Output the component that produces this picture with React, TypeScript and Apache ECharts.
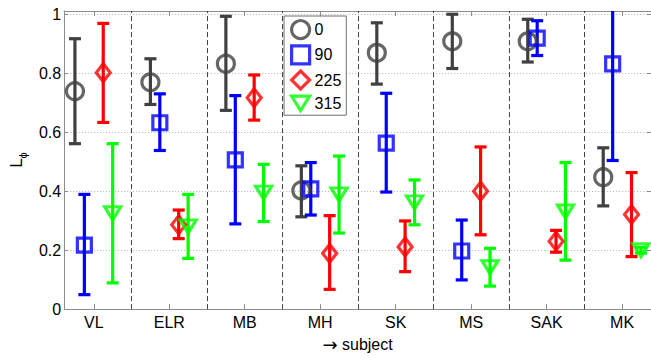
import React, { useEffect, useRef } from "react";
import * as echarts from "echarts";

const subjects = ["VL", "ELR", "MB", "MH", "SK", "MS", "SAK", "MK"];
const angleNames = ["0", "90", "225", "315"];
const angleColors = ["#404040", "#0000ff", "#ff0000", "#00ff00"];
const angleOffsets = [-0.25, -0.125, 0.125, 0.25];

const mean0 = [0.739, 0.769, 0.832, 0.402, 0.869, 0.908, 0.908, 0.447];
const lo0 = [0.561, 0.694, 0.674, 0.313, 0.763, 0.816, 0.838, 0.35];
const hi0 = [0.917, 0.849, 0.993, 0.486, 0.971, 1.0, 0.983, 0.547];

const mean90 = [0.217, 0.632, 0.506, 0.408, 0.563, 0.197, 0.919, 0.832];
const lo90 = [0.049, 0.538, 0.289, 0.319, 0.397, 0.099, 0.86, 0.504];
const hi90 = [0.389, 0.73, 0.724, 0.497, 0.732, 0.302, 0.978, 1.16];

const mean225 = [0.802, 0.286, 0.717, 0.189, 0.211, 0.4, 0.23, 0.321];
const lo225 = [0.633, 0.239, 0.641, 0.067, 0.127, 0.252, 0.193, 0.178];
const hi225 = [0.969, 0.336, 0.794, 0.317, 0.299, 0.55, 0.267, 0.463];

const mean315 = [0.325, 0.28, 0.395, 0.389, 0.362, 0.142, 0.331, 0.2];
const lo315 = [0.089, 0.172, 0.297, 0.258, 0.286, 0.078, 0.166, 0.19];
const hi315 = [0.561, 0.389, 0.491, 0.519, 0.438, 0.206, 0.497, 0.21];

const yTicks = [0, 0.2, 0.4, 0.6, 0.8, 1];
const separators = [1.5, 2.5, 3.5, 4.5, 5.5, 6.5, 7.5];

const X_MIN = 0.607;
const X_MAX = 8.383;
const Y_MIN = 0;
const Y_MAX = 1.011;

const FONT = "Liberation Sans, Arial, sans-serif";
const AXIS_COLOR = "#8c8c8c";

const means = [mean0, mean90, mean225, mean315];
const los = [lo0, lo90, lo225, lo315];
const his = [hi0, hi90, hi225, hi315];
const symbols = ["circle", "rect", "diamond", "path://M0,0L20,0L10,16Z"];
const symbolSizes: any[] = [17, 14, [14, 18], [16, 13]];

export default function App() {
  const ref = useRef<HTMLDivElement>(null);
  useEffect(() => {
    if (!ref.current) return;
    const chart = echarts.init(ref.current, null, { renderer: "svg" });
    const subjX = subjects.map((_, i) => i + 1);

    const series: any[] = [];
    angleNames.forEach((name, k) => {
      const color = angleColors[k];
      const errData = subjects.map((_, i) => [subjX[i] + angleOffsets[k], los[k][i], his[k][i]]);
      const ptData = subjects.map((_, i) => [subjX[i] + angleOffsets[k], means[k][i]]);
      const err: any = {
        type: "custom",
        name: "err" + name,
        coordinateSystem: "cartesian2d",
        xAxisIndex: 0,
        yAxisIndex: 0,
        encode: { x: 0, y: [1, 2] },
        data: errData,
        silent: true,
        renderItem: (params: any, api: any) => {
          const x = api.value(0);
          const lo = api.value(1);
          const hi = api.value(2);
          const top = Math.min(hi, Y_MAX);
          const pT = api.coord([x, top]);
          const pB = api.coord([x, lo]);
          const hw = 6;
          const st = { stroke: color, lineWidth: 3.2, fill: "none" };
          const children: any[] = [
            { type: "line", shape: { x1: pT[0], y1: pT[1], x2: pB[0], y2: pB[1] }, style: st },
            { type: "line", shape: { x1: pB[0] - hw, y1: pB[1], x2: pB[0] + hw, y2: pB[1] }, style: st },
          ];
          if (hi <= Y_MAX) {
            children.push({ type: "line", shape: { x1: pT[0] - hw, y1: pT[1], x2: pT[0] + hw, y2: pT[1] }, style: st });
          }
          return { type: "group", children };
        },
      };
      if (k === 0) {
        err.markLine = {
          silent: true,
          symbol: "none",
          label: { show: false },
          lineStyle: { color: "#404040", type: [5, 3], width: 1 },
          data: separators.map((v) => ({ xAxis: v })),
        };
      }
      series.push(err);
      series.push({
        type: "scatter",
        name,
        xAxisIndex: 0,
        yAxisIndex: 0,
        symbol: symbols[k],
        symbolSize: symbolSizes[k],
        itemStyle: { color: "rgba(0,0,0,0)", borderColor: color, borderWidth: 3.2 },
        data: ptData,
        z: 3,
      });
    });

    chart.setOption({
      animation: false,
      backgroundColor: "#ffffff",
      textStyle: { fontFamily: FONT },
      grid: { left: 51.7, right: 0, top: 11, bottom: 43.7, containLabel: false },
      legend: {
        data: angleNames,
        orient: "vertical",
        left: 284,
        top: 16,
        padding: [3, 5, 3, 6],
        itemGap: 4,
        itemWidth: 18,
        itemHeight: 18,
        backgroundColor: "#ffffff",
        borderColor: "#6e6e6e",
        borderWidth: 1,
        borderRadius: 0,
        itemStyle: { borderWidth: 3.2 },
        textStyle: { fontSize: 16, color: "#000", fontFamily: FONT },
        selectedMode: false,
      },
      xAxis: [
        {
          type: "value",
          min: X_MIN,
          max: X_MAX,
          position: "bottom",
          name: "{a|\u2192} subject",
          nameLocation: "middle",
          nameGap: 20,
          nameTextStyle: {
            fontSize: 16,
            color: "#000",
            fontFamily: FONT,
            rich: {
              a: { fontSize: 18, color: "#000", fontFamily: "DejaVu Sans" },
            },
          },
          axisLine: { show: true, lineStyle: { color: AXIS_COLOR, width: 1 } },
          axisTick: { show: true, inside: true, length: 5, customValues: subjX, lineStyle: { color: AXIS_COLOR } },
          axisLabel: {
            customValues: subjX,
            margin: 5,
            fontSize: 16,
            color: "#000",
            fontFamily: FONT,
            formatter: (v: number) => subjects[Math.round(v) - 1] ?? "",
          },
          splitLine: { show: false },
        },
        {
          type: "value",
          min: X_MIN,
          max: X_MAX,
          position: "top",
          axisLine: { show: true, onZero: false, lineStyle: { color: AXIS_COLOR, width: 1 } },
          axisTick: { show: true, inside: true, length: 5, customValues: subjX, lineStyle: { color: AXIS_COLOR } },
          axisLabel: { show: false },
          splitLine: { show: false },
        },
      ],
      yAxis: [
        {
          type: "value",
          min: Y_MIN,
          max: Y_MAX,
          position: "left",
          name: "{l|L}{s|\u03d5}",
          nameLocation: "middle",
          nameRotate: 90,
          nameGap: 22,
          nameTextStyle: {
            rich: {
              l: { fontSize: 17, color: "#000", fontFamily: FONT, verticalAlign: "top" },
              s: { fontSize: 11, color: "#000", fontFamily: FONT, verticalAlign: "top", padding: [9, 0, 0, 0] },
            },
          },
          axisLine: { show: true, onZero: false, lineStyle: { color: AXIS_COLOR, width: 1 } },
          axisTick: { show: true, inside: true, length: 4, customValues: yTicks, lineStyle: { color: AXIS_COLOR } },
          axisLabel: { customValues: yTicks, margin: 3, fontSize: 16, color: "#000", fontFamily: FONT },
          splitLine: { show: true, lineStyle: { color: "#b4b4b4", type: [1, 2], width: 1 } },
        },
        {
          type: "value",
          min: Y_MIN,
          max: Y_MAX,
          position: "right",
          axisLine: { show: true, onZero: false, lineStyle: { color: AXIS_COLOR, width: 1 } },
          axisTick: { show: true, inside: true, length: 4, customValues: yTicks, lineStyle: { color: AXIS_COLOR } },
          axisLabel: { show: false },
          splitLine: { show: false },
        },
      ],
      series,
    });
    return () => chart.dispose();
  }, []);
  return (
    <div
      ref={ref}
      style={{ position: "absolute", left: 0, top: 0, width: 651, height: 358, background: "#fff" }}
    />
  );
}
